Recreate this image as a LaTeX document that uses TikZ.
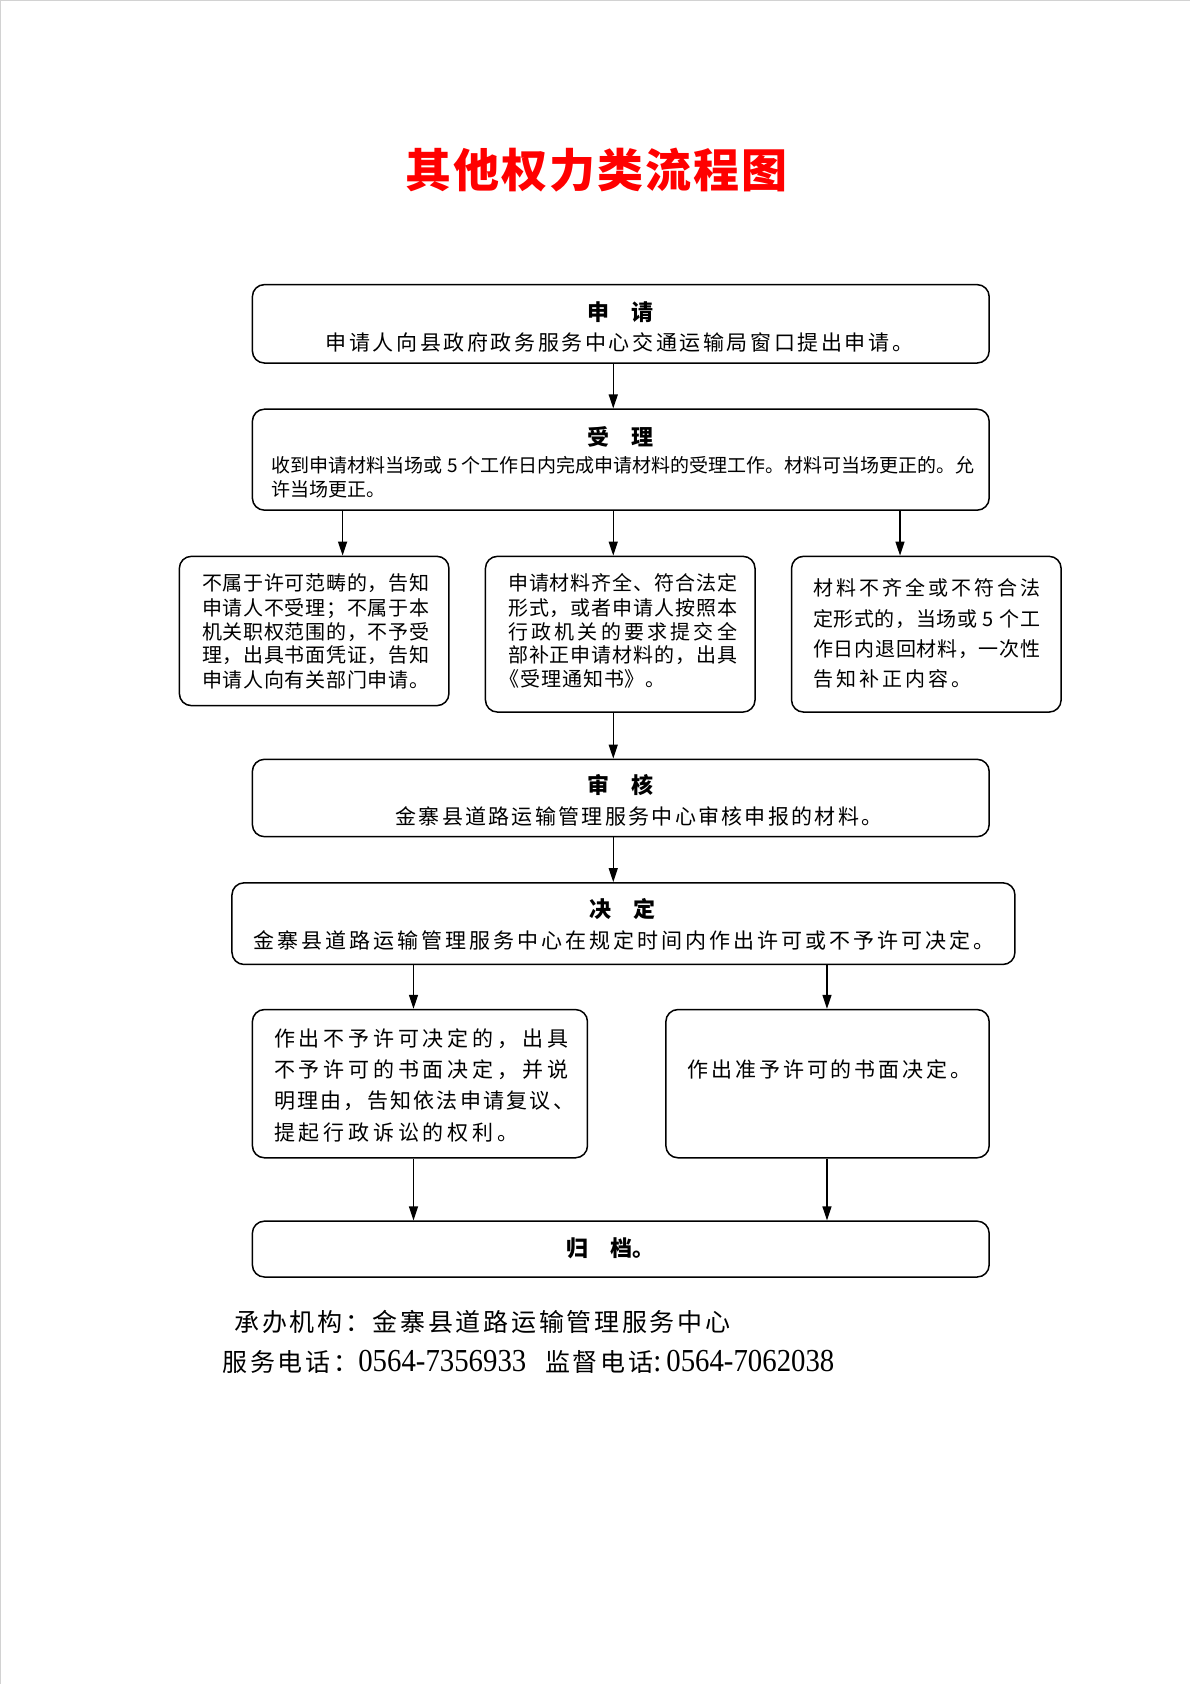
\documentclass[tikz,border=0pt]{standalone}
\usepackage{fontspec}
\setmainfont{Noto Sans CJK SC}
\newfontfamily\numfont[FakeStretch=0.9]{Liberation Serif}
\usetikzlibrary{arrows.meta,fit}
\makeatletter
\def\cj@sep{}
\def\cj@loop#1#2{#1\ifx#2\relax\else\cj@sep\expandafter\cj@loop\expandafter#2\fi}
\newcommand\fline[2]{\hbox to #1{\def\cj@sep{\hfil}\cj@loop#2\relax}}
\newcommand\gline[2]{\hbox{\def\cj@sep{\hskip #1\relax}\cj@loop#2\relax}}
\makeatother
\begin{document}
\begin{tikzpicture}[x=1.074pt,y=-1.074pt,
  box/.style={draw, line width=1.5pt, rounded corners=12pt, inner sep=0pt},
  arr/.style={line width=1.4pt, -{Triangle[length=14pt,width=9pt]}},
  tx/.style={inner sep=0pt, anchor=west},
  f19/.style={font=\fontsize{19}{23}\selectfont, text height=16.7pt, text depth=2.3pt},
  f20/.style={font=\fontsize{20}{24}\selectfont, text height=17.6pt, text depth=2.4pt},
  f21/.style={font=\fontsize{21}{25}\selectfont, text height=18.5pt, text depth=2.5pt},
  f25/.style={font=\fontsize{25}{30}\selectfont, text height=22pt, text depth=3pt},
  hd/.style={inner sep=0pt, font=\fontsize{22}{26}\selectfont\bfseries, text height=19.4pt, text depth=2.6pt},
  ttl/.style={inner sep=0pt, text=red, font=\fontsize{46}{52}\selectfont\bfseries, text height=40.5pt, text depth=5.5pt}
]
\useasboundingbox (0,0) rectangle (1108.01,1567.97);
\draw[gray!35, line width=1pt] (0.5,1567.97) -- (0.5,0.5) -- (1108.01,0.5);

\node[ttl] (title) at (555,158) {\gline{2pt}{其他权力类流程图}};

% boxes
\node[box, fit={(235,265)(921,338)}] (b1) {};
\node[box, fit={(235,381)(921,475)}] (b2) {};
\node[box, fit={(167,518)(418,657)}] (c1) {};
\node[box, fit={(452,518)(703,663)}] (c2) {};
\node[box, fit={(737,518)(988,663)}] (c3) {};
\node[box, fit={(235,707)(921,779)}] (b3) {};
\node[box, fit={(216,822)(945,898)}] (b4) {};
\node[box, fit={(235,940)(547,1078)}] (d1) {};
\node[box, fit={(620,940)(921,1078)}] (d2) {};
\node[box, fit={(235,1137)(921,1189)}] (b5) {};

% arrow columns
\coordinate (xa) at (571,0);
\coordinate (xl) at (319,0);
\coordinate (xr) at (838,0);
\coordinate (xp) at (385,0);
\coordinate (xq) at (770,0);

\draw[arr] (b1.south -| xa) -- (b2.north -| xa);
\draw[arr] (b2.south -| xl) -- (c1.north -| xl);
\draw[arr] (b2.south -| xa) -- (c2.north -| xa);
\draw[arr] (b2.south -| xr) -- (c3.north -| xr);
\draw[arr] (c2.south -| xa) -- (b3.north -| xa);
\draw[arr] (b3.south -| xa) -- (b4.north -| xa);
\draw[arr] (b4.south -| xp) -- (d1.north -| xp);
\draw[arr] (b4.south -| xq) -- (d2.north -| xq);
\draw[arr] (d1.south -| xp) -- (b5.north -| xp);
\draw[arr] (d2.south -| xq) -- (b5.north -| xq);

% box 1
\node[hd] (h1) at (578,291) {申　请};
\node[tx,f21] (t1) at (303,319) {\gline{2.6pt}{申请人向县政府政务服务中心交通运输局窗口提出申请。}};
% box 2
\node[hd] (h2) at (578,407) {受　理};
\node[tx,f19] (t2a) at (253,433) {收到申请材料当场或 5 个工作日内完成申请材料的受理工作。材料可当场更正的。允};
\node[tx,f19] (t2b) at (253,456) {许当场更正。};
% row 3 left
\node[tx,f20] (c1a) at (188,543) {\gline{0.7pt}{不属于许可范畴的，告知}};
\node[tx,f20] (c1b) at (188,566) {\gline{0.7pt}{申请人不受理；不属于本}};
\node[tx,f20] (c1c) at (188,588) {\gline{0.7pt}{机关职权范围的，不予受}};
\node[tx,f20] (c1d) at (188,610) {\gline{0.7pt}{理，出具书面凭证，告知}};
\node[tx,f20] (c1e) at (188,633) {\gline{0.7pt}{申请人向有关部门申请。}};
% row 3 middle
\node[tx,f20] (c2a) at (473,543) {\gline{0.9pt}{申请材料齐全、符合法定}};
\node[tx,f20] (c2b) at (473,566) {\gline{0.9pt}{形式，或者申请人按照本}};
\node[tx,f20] (c2c) at (473,588) {\fline{229pt}{行政机关的要求提交全}};
\node[tx,f20] (c2d) at (473,610) {\gline{0.9pt}{部补正申请材料的，出具}};
\node[tx,f20] (c2e) at (465,632) {\gline{0.9pt}{《受理通知书》。}};
% row 3 right
\node[tx,f20] (c3a) at (757,547) {\fline{227pt}{材料不齐全或不符合法}};
\node[tx,f20] (c3b) at (757,576) {\fline{227pt}{定形式的，当场或\ 5\ 个工}};
\node[tx,f20] (c3c) at (757,604) {\fline{227pt}{作日内退回材料，一次性}};
\node[tx,f20] (c3d) at (757,632) {\gline{3pt}{告知补正内容。}};
% box 3
\node[hd] (h3) at (578,731) {审　核};
\node[tx,f21] (t3) at (368,760) {\gline{2.3pt}{金寨县道路运输管理服务中心审核申报的材料。}};
% box 4
\node[hd] (h4) at (580,846) {决　定};
\node[tx,f21] (t4) at (236,876) {\gline{3pt}{金寨县道路运输管理服务中心在规定时间内作出许可或不予许可决定。}};
% row 5 left
\node[tx,f21] (d1a) at (255,967) {\fline{294pt}{作出不予许可决定的，出具}};
\node[tx,f21] (d1b) at (255,996) {\fline{294pt}{不予许可的书面决定，并说}};
\node[tx,f21] (d1c) at (255,1025) {\fline{300pt}{明理由，告知依法申请复议、}};
\node[tx,f21] (d1d) at (255,1054) {\gline{3.8pt}{提起行政诉讼的权利。}};
% row 5 right
\node[tx,f21] (d2a) at (640,996) {\gline{2.9pt}{作出准予许可的书面决定。}};
% box 5
\node[hd] (h5) at (568,1162) {归　档。};

% footer
\node[tx,f25] (f1) at (218,1231) {\gline{2.7pt}{承办机构：金寨县道路运输管理服务中心}};
\node[tx,f25] (f2) at (207,1268) {\gline{2.7pt}{服务电话：}{\numfont\fontsize{32}{36}\selectfont 0564-7356933}\hspace{19pt}\gline{2.7pt}{监督电话}{\numfont\fontsize{32}{36}\selectfont :\hspace{5pt}0564-7062038}};
\end{tikzpicture}
\end{document}
